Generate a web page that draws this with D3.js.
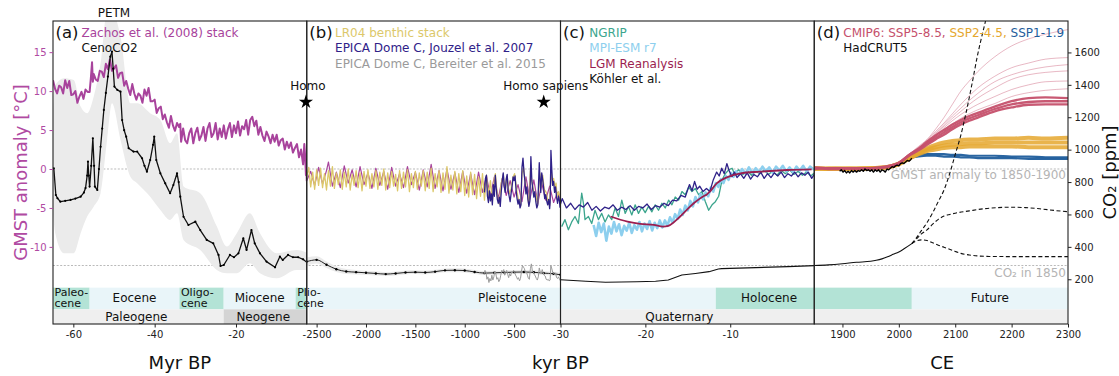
<!DOCTYPE html>
<html>
<head>
<meta charset="utf-8">
<script src="https://cdn.jsdelivr.net/npm/d3@7"></script>
<style>
  body { margin: 0; background: #fff; }
  text { font-family: "DejaVu Sans", sans-serif; }
</style>
</head>
<body>
<svg id="chart" width="1119" height="376"></svg>
<script>
// ---------------- axis domains & ticks ----------------
const myrDomain = [-65, -2.6];
const kyrDomainB = [-2600, -30];
const kyrDomainC = [-30, -0.1];
const ceDomain = [1850, 2300];
const tempDomain = [-19.9, 19.0];
const co2Domain = [-76, 1794];

const ticksMyr = [-60, -40, -20];
const ticksKyrB = [-2500, -2000, -1500, -1000, -500];
const ticksKyrC = [-30, -20, -10];
const ticksCE = [1900, 2000, 2100, 2200, 2300];
const ticksTemp = [-10, -5, 0, 5, 10, 15];
const ticksCO2 = [200, 400, 600, 800, 1000, 1200, 1400, 1600];

// ---------------- geological time bands ----------------
const epochNames = ["Paleo-\ncene", "Eocene", "Oligo-\ncene", "Miocene", "Plio-\ncene"];
const epochStartMyr = [-65, -56, -33.9, -23.03, -5.33];
const epochEndMyr = [-56, -33.9, -23.03, -5.33, -2.58];
const periodNames = ["Paleogene", "Neogene"];
const periodStartMyr = [-65, -23.03];
const periodEndMyr = [-23.03, -2.58];
const pleistoceneKyr = [-2580, -11.7];
const holoceneKyr = [-11.7, -0.1];
const holoceneCE = [1850, 2023];
const futureCE = [2023, 2300];

// ---------------- reference levels ----------------
const gmstRef = 0;        // anomaly to 1850-1900
const co2Ref1850 = 285;   // ppm

// ---------------- (a) Cenozoic ----------------
// Zachos et al. (2008) stack, [Myr, GMST anomaly]
const zachos = [
[-65,11.4],[-64.5,10.3],[-64,9.7],[-63.5,10.7],[-63,10.5],[-62.5,9.7],[-62,11.4],[-61.5,10.4],[-61,11.3],[-60.5,9.5],
[-60,9.6],[-59.5,10.0],[-59,8.5],[-58.5,9.3],[-58,9.9],[-57.5,9.0],[-57,10.2],[-56.5,9.9],[-56,9.9],[-55.7,11.6],
[-55.4,13.7],[-55.2,11.2],[-55,12.2],[-54.5,11.5],[-54,11.3],[-53.5,12.6],[-53,12.5],[-52.5,11.8],[-52,13.5],[-51.5,12.8],
[-51,14.1],[-50.5,12.6],[-50,12.9],[-49.5,13.3],[-49,11.7],[-48.5,12.3],[-48,12.4],[-47.5,10.7],[-47,11.3],[-46.5,10.3],
[-46,9.5],[-45.5,10.9],[-45,9.7],[-44.5,8.9],[-44,9.7],[-43.5,9.4],[-43,8.5],[-42.5,10.2],[-42,9.4],[-41.5,10.4],
[-41,8.7],[-40.5,8.7],[-40,8.9],[-39.5,7.2],[-39,7.8],[-38.5,8.0],[-38,6.4],[-37.5,7.0],[-37,6.0],[-36.5,5.3],
[-36,6.8],[-35.5,5.6],[-35,4.9],[-34.5,5.9],[-34,5.4],[-33.7,5.8],[-33.5,3.5],[-33,5.2],[-32.5,3.7],[-32,3.3],
[-31.5,4.6],[-31,5.2],[-30.5,3.3],[-30,4.6],[-29.5,5.3],[-29,3.7],[-28.5,4.3],[-28,5.4],[-27.5,3.6],[-27,5.2],
[-26.5,5.9],[-26,4.1],[-25.5,4.6],[-25,5.9],[-24.5,3.8],[-24,5.2],[-23.5,4.1],[-23,5.6],[-22.5,3.9],[-22,5.1],
[-21.5,5.9],[-21,4.1],[-20.5,5.6],[-20,4.6],[-19.5,6.1],[-19,4.3],[-18.5,5.5],[-18,5.1],[-17.5,6.3],[-17,4.4],
[-16.5,6.3],[-16,6.7],[-15.5,5.5],[-15,6.2],[-14.5,4.4],[-14,5.4],[-13.5,4.3],[-13,3.6],[-12.5,4.8],[-12,4.2],
[-11.5,3.3],[-11,4.4],[-10.5,3.5],[-10,4.4],[-9.5,3.0],[-9,3.7],[-8.5,3.9],[-8,2.5],[-7.5,3.5],[-7,2.7],
[-6.5,3.4],[-6,2.1],[-5.5,2.7],[-5,3.2],[-4.5,1.5],[-4,2.5],[-3.5,0.6],[-3.2,3.2],[-3,1.7],[-2.8,-0.8],
[-2.7,1.2],[-2.6,-1.5],[-2.56,-0.3],[-2.52,-2.1],[-2.48,0.2],[-2.44,-1.9],[-2.40,-0.2],[-2.38,0.9],[-2.34,-2.2],[-2.30,-0.4],
[-2.26,-2.4],[-2.22,0.4],[-2.18,-1.8],[-2.14,-0.1],[-2.10,-2.3],[-2.06,0.3],[-2.02,-2.0],[-1.98,-0.5],[-1.94,-2.5],[-1.90,0.1],
[-1.86,-2.1],[-1.82,-0.3],[-1.78,-2.6],[-1.74,0.2],[-1.70,-2.2],[-1.66,-0.6],[-1.62,-2.4],[-1.58,0.3],[-1.54,-2.0],[-1.50,-0.4],
[-1.46,-2.7],[-1.42,-0.1],[-1.38,-2.3],[-1.34,0.6],[-1.30,-2.5],[-1.26,-0.2],[-1.22,-2.8],[-1.18,0.0],[-1.14,-2.6],[-1.10,-0.5],
[-1.06,-3.0],[-1.02,-0.3],[-0.98,-3.1],[-0.94,-0.6],[-0.90,-3.3],[-0.86,-0.4],[-0.82,-3.0],[-0.78,-0.9],[-0.74,-3.5],[-0.70,-1.0],
[-0.66,-3.8],[-0.62,-1.2],[-0.58,-3.4],[-0.54,-1.5],[-0.50,-3.6],[-0.46,-2.0],[-0.42,-4.2],[-0.38,-1.0],[-0.34,-3.9],[-0.30,-1.4],
[-0.26,-4.4],[-0.22,-1.8],[-0.18,-4.0],[-0.14,-2.2],[-0.10,-4.3],[-0.06,-3.0],[-0.03,-4.0]
];

// CenoCO2 central estimate, [Myr, ppm]
const cenoCO2 = [
[-64.8,885],[-64.3,720],[-63.9,700],[-63.2,679],[-62,684],[-60.7,690],[-59.5,698],[-58.2,710],[-57.4,735],[-57,763],
[-56.6,840],[-56.4,926],[-56.2,840],[-56,772],[-55.6,900],[-55.2,1070],[-54.9,900],[-54.7,772],[-54.1,751],[-53.7,880],
[-53.3,1018],[-52.9,1130],[-52.5,1245],[-52,1350],[-51.5,1451],[-50.9,1574],[-50.5,1605],[-50.2,1500],[-49.9,1389],[-49.2,1369],
[-48.4,1358],[-48,1183],[-47.5,1120],[-47,1080],[-46.4,1009],[-45.2,988],[-44.3,988],[-43.1,947],[-42.5,900],[-41.9,864],
[-41.1,936],[-40.4,1030],[-40.1,1080],[-39.6,936],[-38.6,854],[-37.4,792],[-36.2,731],[-35.4,782],[-34.5,854],[-34.1,800],
[-33.7,710],[-32.9,586],[-31.7,535],[-30,556],[-28.8,504],[-27.2,443],[-25.6,422],[-24.3,350],[-23.8,282],[-23,288],
[-21.5,350],[-20.5,336],[-19.4,360],[-18.2,453],[-17.4,381],[-16.2,504],[-15.4,422],[-14.1,360],[-12.5,309],[-10.4,274],
[-9.2,340],[-8.5,319],[-7.2,350],[-6,336],[-4.7,336],[-3.5,323],[-2.3,299]
];
// CenoCO2 uncertainty range, [Myr, low, high]
const cenoCO2Range = [
[-65,600,1250],[-64.4,480,1400],[-62.3,361,1441],[-59.9,361,1430],[-58.2,484,1266],[-56.6,587,1225],[-55,648,1327],
[-53.3,731,1533],[-51.7,1060,1850],[-50.5,1286,1850],[-48.4,1060,1698],[-46,834,1286],[-44.3,793,1286],[-41.1,710,1225],
[-38.6,628,1183],[-36.2,566,1039],[-34.5,607,1101],[-32.9,443,772],[-28.8,381,731],[-24.7,257,525],[-22.3,237,402],
[-19.8,237,484],[-16.6,299,607],[-14.1,237,484],[-10,206,361],[-5.1,257,381],[-2.3,257,361]
];

// ---------------- (b) Plio-Pleistocene ----------------
// LR04 benthic stack, [kyr BP, GMST anomaly]
const lr04 = [
[-2600,-1.0],[-2580,0.2],[-2560,-2.3],[-2540,-0.4],[-2520,-2.6],[-2500,-0.1],[-2480,-2.1],[-2460,0.1],[-2440,-2.4],[-2420,-0.6],
[-2400,-2.7],[-2380,-0.2],[-2360,-2.2],[-2340,0.3],[-2320,-2.5],[-2300,-0.5],[-2280,-2.0],[-2260,-0.1],[-2240,-2.6],[-2220,-0.4],
[-2200,-2.3],[-2180,0.0],[-2160,-2.7],[-2140,-0.7],[-2120,-2.1],[-2100,-0.2],[-2080,-2.4],[-2060,-0.5],[-2040,-2.8],[-2020,-0.3],
[-2000,-2.2],[-1980,-0.1],[-1960,-2.5],[-1940,-0.6],[-1920,-2.3],[-1900,-0.2],[-1880,-2.6],[-1860,-0.4],[-1840,-2.1],[-1820,0.0],
[-1800,-2.7],[-1780,-0.5],[-1760,-2.4],[-1740,-0.3],[-1720,-2.2],[-1700,-0.7],[-1680,-2.8],[-1660,-0.2],[-1640,-2.5],[-1620,-0.4],
[-1600,-2.3],[-1580,-0.1],[-1560,-2.9],[-1540,-0.6],[-1520,-2.4],[-1500,-0.3],[-1480,-2.6],[-1460,-0.5],[-1440,-2.2],[-1420,-0.2],
[-1400,-2.8],[-1380,-0.4],[-1360,-2.5],[-1340,0.1],[-1320,-2.9],[-1300,-0.6],[-1280,-2.3],[-1260,-0.2],[-1240,-3.0],[-1220,-0.5],
[-1200,-2.6],[-1180,0.3],[-1160,-3.1],[-1140,-0.8],[-1120,-2.7],[-1100,-0.3],[-1080,-3.2],[-1060,-0.6],[-1040,-2.9],[-1020,-0.2],
[-1000,-3.4],[-980,-0.9],[-960,-3.6],[-940,-0.4],[-920,-3.3],[-900,-0.7],[-880,-3.8],[-860,-1.0],[-840,-3.5],[-820,-0.6],
[-800,-4.0],[-780,-0.8],[-760,-3.6],[-740,-1.5],[-720,-4.2],[-700,-1.2],[-690,-0.6],[-670,-3.4],[-650,-4.5],[-630,-1.8],
[-610,-0.7],[-590,-2.8],[-570,-0.9],[-550,-3.2],[-530,-2.5],[-510,-1.0],[-495,-0.6],[-470,-3.0],[-450,-4.3],[-435,-4.8],
[-420,-0.6],[-405,0.2],[-390,-1.5],[-370,-2.8],[-350,-4.6],[-335,-0.2],[-320,-1.6],[-300,-2.9],[-280,-3.3],[-260,-4.5],
[-240,-0.5],[-225,-2.3],[-210,-0.8],[-195,-2.6],[-175,-3.0],[-160,-4.0],[-140,-4.7],[-125,0.0],[-110,-2.0],[-100,-1.2],
[-85,-2.4],[-75,-1.8],[-65,-3.6],[-50,-2.9],[-30,-3.8]
];

// EPICA Dome C temperature (Jouzel et al. 2007), [kyr BP, GMST anomaly]
const epicaT = [
[-800,-3.0],[-790,-1.2],[-780,-0.8],[-770,-3.5],[-760,-4.3],[-750,-2.8],[-740,-4.1],[-730,-3.2],[-720,-4.6],[-710,-2.0],
[-700,-3.5],[-690,-0.8],[-680,-2.6],[-670,-3.9],[-660,-4.4],[-650,-3.6],[-640,-4.8],[-630,-2.9],[-620,-1.5],[-610,-0.5],
[-600,-2.2],[-590,-3.0],[-580,-1.3],[-570,-0.7],[-560,-2.8],[-550,-3.5],[-540,-4.2],[-530,-3.1],[-520,-2.2],[-510,-1.0],
[-500,-1.5],[-490,-0.9],[-480,-2.7],[-470,-3.8],[-460,-4.5],[-450,-3.9],[-440,-5.0],[-430,-4.6],[-425,-2.0],[-420,0.2],
[-410,1.4],[-400,-0.4],[-390,-1.6],[-380,-3.2],[-370,-2.3],[-360,-3.9],[-350,-4.8],[-340,-4.1],[-335,-1.0],[-330,1.6],
[-320,-1.5],[-310,-2.7],[-300,-3.6],[-290,-2.9],[-280,-4.2],[-270,-5.0],[-260,-4.6],[-250,-1.0],[-245,0.8],[-240,-0.6],
[-230,-3.0],[-220,-0.5],[-210,-1.4],[-200,-2.5],[-190,-3.8],[-180,-3.3],[-170,-4.1],[-160,-4.6],[-150,-3.9],[-140,-5.1],
[-135,-4.3],[-130,-0.5],[-127,2.4],[-120,0.4],[-110,-2.1],[-100,-1.6],[-90,-3.0],[-80,-2.3],[-70,-3.6],[-60,-4.4],
[-50,-3.5],[-40,-4.2],[-35,-4.9],[-30,-4.5],
[-29.8,-3.8],[-29.3,-5.0],[-28.8,-4.4],[-28.3,-5.2],[-27.8,-4.6],[-27.3,-4.9],[-26.8,-4.3],[-26.3,-5.3],[-25.8,-4.8],[-25.3,-5.4],
[-24.8,-4.9],[-24.3,-5.1],[-23.8,-4.6],[-23.3,-5.3],[-22.8,-4.9],[-22.3,-5.2],[-21.8,-4.7],[-21.3,-5.3],[-20.8,-4.8],[-20.3,-5.0],
[-19.8,-4.5],[-19.3,-5.2],[-18.8,-4.7],[-18.3,-4.9],[-17.8,-4.4],[-17.3,-4.7],[-16.8,-4.0],[-16.3,-4.1],[-15.8,-3.4],[-15.3,-3.6],
[-14.8,-2.0],[-14.5,-2.8],[-14.2,-1.6],[-13.9,-2.6],[-13.6,-2.2],[-13.2,-2.9],[-12.8,-2.5],[-12.4,-2.9],[-12.0,-1.4],[-11.6,-0.4],
[-11.3,-0.9],[-11.0,0.1],[-10.7,-0.6],[-10.4,0.7],[-10.1,-0.3],[-9.8,-1.0],[-9.5,-0.4],[-9.2,-1.1],[-8.8,-0.6],[-8.4,-1.2],
[-8.0,-0.5],[-7.6,-1.3],[-7.2,-0.7],[-6.8,-1.0],[-6.4,-0.4],[-6.0,-1.2],[-5.6,-0.6],[-5.2,-1.1],[-4.8,-0.5],[-4.4,-0.9],
[-4.0,-0.4],[-3.6,-1.1],[-3.2,-0.6],[-2.8,-0.9],[-2.4,-0.4],[-2.0,-1.0],[-1.6,-0.5],[-1.2,-0.8],[-0.8,-0.4],[-0.4,-1.2],[-0.1,-0.7]
];

// EPICA Dome C CO2 (Bereiter et al. 2015), [kyr BP, ppm]
const bereiterCO2 = [
[-805,230],[-795,255],[-785,245],[-775,200],[-765,215],[-755,180],[-745,205],[-735,190],[-725,225],[-715,195],
[-705,215],[-695,250],[-685,235],[-675,200],[-665,210],[-655,185],[-645,195],[-635,225],[-625,255],[-615,245],
[-605,260],[-595,225],[-585,240],[-575,255],[-565,230],[-555,210],[-545,235],[-535,220],[-525,245],[-515,240],
[-505,255],[-495,245],[-485,225],[-475,215],[-465,200],[-455,210],[-445,190],[-435,205],[-425,250],[-415,285],
[-405,275],[-395,265],[-385,240],[-375,245],[-365,225],[-355,205],[-345,200],[-335,265],[-325,295],[-315,250],
[-305,245],[-295,230],[-285,220],[-275,205],[-265,195],[-255,215],[-245,270],[-235,245],[-225,235],[-215,260],
[-205,240],[-195,225],[-185,220],[-175,200],[-165,195],[-155,200],[-145,190],[-135,195],[-128,285],[-120,270],
[-110,245],[-100,235],[-90,230],[-80,240],[-70,210],[-60,205],[-50,215],[-40,200],[-30,190]
];

// Plio-Pleistocene CO2 reconstruction, [kyr BP, ppm, low, high]
const plioCO2 = [
[-2600,309,285,335],[-2500,320,298,342],[-2400,290,270,310],[-2300,262,245,280],[-2200,248,233,263],[-2100,244,230,258],
[-2000,240,227,253],[-1900,236,223,249],[-1800,232,220,244],[-1700,236,224,248],[-1600,242,230,254],[-1500,244,232,256],
[-1400,242,230,254],[-1300,247,235,259],[-1200,255,243,267],[-1100,256,244,268],[-1000,254,242,266],[-900,245,233,257],
[-800,238,226,250],[-700,240,228,252],[-600,242,230,254],[-500,244,232,256],[-400,245,233,257],[-300,243,231,255],
[-200,238,226,250],[-100,234,222,246],[-30,228,216,240]
];

// ---------------- (c) Last deglaciation ----------------
// NGRIP, [kyr BP, GMST anomaly]
const ngrip = [
[-29.86,-7.4],[-29.47,-6.5],[-29.07,-7.8],[-28.68,-6.8],[-28.29,-6.1],[-27.89,-7.0],[-27.5,-3.1],[-27.3,-4.4],[-27.11,-6.5],[-26.71,-6.1],
[-26.32,-7.0],[-25.93,-5.3],[-25.53,-6.5],[-25.14,-5.7],[-24.75,-6.8],[-24.35,-5.9],[-23.96,-6.5],[-23.56,-5.0],[-23.17,-6.1],[-22.78,-4.0],
[-22.38,-5.7],[-21.99,-4.8],[-21.6,-5.9],[-21.2,-4.6],[-20.81,-5.7],[-20.42,-4.9],[-20.02,-5.6],[-19.63,-4.8],[-19.23,-5.5],[-18.84,-4.6],
[-18.45,-5.3],[-18.05,-4.4],[-17.66,-5.0],[-17.26,-4.0],[-16.87,-4.6],[-16.48,-3.6],[-16.08,-4.0],[-15.69,-2.9],[-15.3,-3.3],[-14.9,-2.3],
[-14.51,-2.9],[-14.11,-2.5],[-13.72,-3.3],[-13.33,-2.9],[-12.93,-4.2],[-12.54,-5.3],[-12.14,-4.6],[-11.75,-4.2],[-11.36,-3.5],[-10.96,-1.4],
[-10.57,-0.6],[-10.17,-0.1],[-9.78,0.1],[-9.5,-0.6],[-9.0,-0.1],[-8.5,-0.7],[-8.0,-0.2],[-7.5,-0.8],[-7.0,-0.3],[-6.5,-0.6],
[-6.0,-0.1],[-5.5,-0.7],[-5.0,-0.3],[-4.5,-0.8],[-4.0,-0.2],[-3.5,-0.6],[-3.0,-0.1],[-2.5,-0.7],[-2.0,-0.3],[-1.5,-0.8],
[-1.0,-0.4],[-0.5,-0.9],[-0.1,-0.5]
];

// MPI-ESM r7 transient deglaciation, [kyr BP, GMST anomaly]
const mpiEsm = [
[-26.1,-7.2],[-25.8,-8.6],[-25.5,-6.9],[-25.2,-8.1],[-24.9,-7.0],[-24.6,-9.2],[-24.3,-7.4],[-24.0,-8.3],[-23.7,-6.8],[-23.4,-8.0],
[-23.1,-7.1],[-22.8,-8.5],[-22.5,-7.3],[-22.2,-7.9],[-21.9,-6.9],[-21.6,-8.2],[-21.3,-7.2],[-21.0,-7.8],[-20.7,-6.8],[-20.4,-8.0],
[-20.1,-7.0],[-19.8,-7.7],[-19.5,-6.7],[-19.2,-7.9],[-18.9,-6.9],[-18.6,-7.6],[-18.3,-6.6],[-18.0,-7.5],[-17.7,-6.6],[-17.4,-7.3],
[-17.1,-6.2],[-16.8,-6.9],[-16.5,-5.8],[-16.2,-6.4],[-15.9,-5.2],[-15.6,-5.9],[-15.3,-4.7],[-15.0,-5.3],[-14.7,-4.1],[-14.4,-4.8],
[-14.1,-3.6],[-13.8,-4.3],[-13.5,-3.2],[-13.2,-3.9],[-12.9,-3.0],[-12.6,-3.5],[-12.3,-2.4],[-12.0,-2.9],[-11.7,-1.8],[-11.4,-2.3],
[-11.1,-1.3],[-10.8,-1.8],[-10.5,-0.9],[-10.2,-1.4],[-9.9,-0.5],[-9.6,-1.0],[-9.3,-0.3],[-9.0,-0.8],[-8.6,0.0],[-8.2,-0.6],
[-7.8,0.2],[-7.4,-0.5],[-7.0,0.1],[-6.6,-0.4],[-6.2,0.3],[-5.8,-0.3],[-5.4,0.2],[-5.0,-0.5],[-4.6,0.3],[-4.2,-0.2],
[-3.8,0.4],[-3.4,-0.3],[-3.0,0.2],[-2.6,-0.4],[-2.2,0.3],[-1.8,-0.2],[-1.4,0.4],[-1.0,-0.3],[-0.6,0.3],[-0.1,-0.1]
];

// LGM Reanalysis, [kyr BP, GMST anomaly]
const lgmReanalysis = [
[-24.1,-6.1],[-22.1,-6.75],[-20.6,-7.05],[-19.0,-7.18],[-17.9,-7.39],[-17.3,-7.3],[-15.9,-6.1],[-14.3,-4.4],[-13.1,-3.46],
[-12.8,-3.3],[-12.4,-2.9],[-11.6,-1.84],[-10.4,-1.07],[-8.8,-0.56],[-6.5,-0.34],[-3.3,-0.13],[-0.4,-0.04]
];

// Köhler et al. CO2, [kyr BP, ppm]
const kohlerCO2 = [
[-30,197],[-27,188],[-24.7,182],[-21,185],[-18.8,188],[-17.3,196],[-15.7,226],[-14.1,236],[-12.5,247],[-11.4,263],
[-11,266],[-7,272],[-3.2,278],[-0.1,284]
];

// ---------------- (d) Industrial era & projections ----------------
const cmipYears = [1850,1875,1900,1925,1950,1975,2000,2020,2035,2050,2065,2080,2095,2110,2125,2140,2170,2200,2230,2260,2300];
// SSP5-8.5 members (thin)
const ssp585Thin = [
[0.1,0.0,0.1,0.0,0.1,0.2,0.8,2.0,2.9,3.8,5.1,6.6,8.3,10.0,11.3,12.5,14.4,15.8,16.7,17.3,17.9],
[0.2,0.1,0.0,0.1,0.2,0.3,0.8,2.0,2.8,3.7,4.8,5.9,7.1,8.3,9.4,10.4,11.9,13.0,13.6,14.1,14.3],
[0.0,0.1,0.1,0.0,0.1,0.2,0.7,1.9,2.7,3.6,4.6,5.7,6.8,7.8,8.8,9.7,11.2,12.1,12.7,13.1,13.4],
[0.1,0.1,0.0,0.1,0.0,0.2,0.8,1.9,2.7,3.5,4.5,5.5,6.5,7.4,8.3,9.1,10.4,11.5,12.1,12.4,12.6],
[0.1,0.0,0.1,0.1,0.1,0.3,0.7,1.9,2.6,3.4,4.3,5.3,6.2,7.0,7.7,8.3,9.3,10.2,10.8,11.2,11.3],
[0.0,0.1,0.0,0.0,0.1,0.2,0.8,1.9,2.6,3.3,4.2,5.1,5.8,6.5,7.1,7.6,8.4,9.3,9.8,10.1,10.3]
];
// SSP5-8.5 members (thick)
const ssp585Thick = [
[0.2,0.1,0.1,0.0,0.1,0.3,0.8,1.9,2.6,3.5,4.3,5.0,5.7,6.3,6.8,7.2,8.0,8.7,9.1,9.2,9.1],
[0.1,0.0,0.0,0.1,0.1,0.2,0.7,1.8,2.4,3.1,3.8,4.4,5.1,5.7,6.2,6.6,7.4,7.9,8.25,8.3,8.3],
[0.0,0.1,0.1,0.1,0.0,0.2,0.8,1.9,2.5,3.3,4.0,4.7,5.4,6.0,6.5,6.9,7.7,8.3,8.6,8.7,8.7]
];
const ssp245 = [
[0.1,0.0,0.1,0.0,0.1,0.2,0.7,1.5,2.1,2.7,3.1,3.4,3.6,3.7,3.8,3.8,3.9,3.9,4.0,3.9,4.0],
[0.0,0.1,0.0,0.1,0.1,0.2,0.7,1.4,2.0,2.5,2.8,3.0,3.1,3.2,3.3,3.3,3.4,3.4,3.4,3.4,3.4],
[0.1,0.0,0.0,0.0,0.1,0.2,0.6,1.4,1.9,2.3,2.5,2.7,2.8,2.8,2.9,2.9,2.9,2.9,2.8,2.8,2.8]
];
const ssp119 = [
[0.1,0.0,0.1,0.0,0.1,0.2,0.7,1.5,1.8,1.9,1.9,1.9,1.8,1.8,1.7,1.7,1.7,1.6,1.6,1.5,1.5],
[0.0,0.1,0.0,0.1,0.0,0.2,0.6,1.4,1.6,1.7,1.7,1.6,1.6,1.5,1.5,1.4,1.4,1.4,1.3,1.3,1.3]
];

// HadCRUT5, [year, GMST anomaly]
const hadcrut5 = [
[1895,-0.3],[1898,-0.1],[1901,-0.4],[1904,-0.2],[1907,-0.5],[1910,-0.3],[1913,-0.5],[1916,-0.2],[1919,-0.4],[1922,-0.2],
[1925,-0.4],[1928,-0.2],[1931,-0.3],[1934,-0.1],[1937,-0.3],[1940,0.0],[1943,-0.2],[1946,-0.1],[1949,-0.3],[1952,-0.1],
[1955,-0.4],[1958,-0.1],[1961,-0.3],[1964,-0.1],[1967,-0.4],[1970,-0.1],[1973,-0.2],[1976,-0.4],[1979,0.0],[1982,-0.1],
[1985,0.1],[1988,0.3],[1991,0.2],[1994,0.4],[1997,0.5],[2000,0.4],[2003,0.7],[2006,0.8],[2009,0.7],[2012,0.9],
[2015,1.1],[2018,1.0],[2021,1.2],[2023,1.4]
];

// CO2 observed and scenario concentrations, [year, ppm]
const co2Hist = [[1850,285],[1875,289],[1900,296],[1925,305],[1950,311],[1960,317],[1970,326],[1980,339],[1990,354],[2000,369],[2010,390],[2023,420]];
const co2Ssp585 = [[2023,420],[2030,450],[2040,500],[2050,550],[2060,610],[2070,680],[2080,750],[2090,850],[2100,970],[2110,1090],[2120,1240],[2130,1410],[2140,1590],[2150,1740],[2160,1880],[2175,2050],[2200,2150],[2250,2200],[2300,2200]];
const co2Ssp245 = [[2023,420],[2030,445],[2040,480],[2050,505],[2060,540],[2070,570],[2080,590],[2090,600],[2100,608],[2125,622],[2150,635],[2175,642],[2200,645],[2225,642],[2250,635],[2275,625],[2300,617]];
const co2Ssp119 = [[2023,420],[2030,435],[2040,443],[2050,439],[2060,425],[2070,410],[2080,398],[2090,385],[2100,372],[2110,360],[2125,350],[2140,344],[2160,341],[2200,340],[2300,340]];

// hominin markers
const homoAgeMyr = -2.8;
const sapiensAgeKyr = -200;
const starLevel = 8.6;

// ================= drawing =================
const C = {
  zachos: "#a8439c", axisT: "#b04aa2", lr04: "#dcc86a", epica: "#2f2188", bereiter: "#9a9a9a",
  ngrip: "#3ba58d", mpi: "#8dcfee", lgm: "#9b1e4f", s585: "#c5506c", s245: "#e5a72e", s119: "#1f5d9c",
  teal: "#b3e3d6", light: "#e9f5f9", gray1: "#efefef", gray2: "#d4d4d4", ref: "#a8a8a8", refText: "#b4b4b4"
};

const svg = d3.select("#chart");
const L = 53, R = 1068, T = 21, B = 324;
const pw = (R - L) / 4;
const px = [L, L + pw, L + 2 * pw, L + 3 * pw];

const xA = d3.scaleLinear().domain(myrDomain).range([px[0], px[1]]);
const xB = d3.scaleLinear().domain(kyrDomainB).range([px[1], px[2]]);
const xC = d3.scaleLinear().domain(kyrDomainC).range([px[2], px[3]]);
const xD = d3.scaleLinear().domain(ceDomain).range([px[3], R]);
const yT = d3.scaleLinear().domain(tempDomain).range([B, T]);
const yC = d3.scaleLinear().domain(co2Domain).range([B, T]);

const epochTop = T + (B - T) * 0.880;
const periodTop = T + (B - T) * 0.9515;

const defs = svg.append("defs");
px.forEach((x, i) => {
  defs.append("clipPath").attr("id", "clip" + i)
    .append("rect").attr("x", x).attr("y", T).attr("width", pw).attr("height", B - T);
});

const bandG = px.map((x, i) => svg.append("g").attr("clip-path", `url(#clip${i})`));
const refG = svg.append("g");
const dataG = px.map((x, i) => svg.append("g").attr("clip-path", `url(#clip${i})`));

// ---- time bands ----
function band(g, x0, x1, y0, y1, fill) {
  g.append("rect").attr("x", Math.min(x0, x1)).attr("y", y0)
    .attr("width", Math.abs(x1 - x0)).attr("height", y1 - y0).attr("fill", fill);
}
const epochFill = [C.teal, C.light, C.teal, C.light, C.teal];
epochNames.forEach((n, i) => band(bandG[0], xA(epochStartMyr[i]), xA(epochEndMyr[i]), epochTop, periodTop, epochFill[i]));
const periodFill = [C.gray1, C.gray2];
periodNames.forEach((n, i) => band(bandG[0], xA(periodStartMyr[i]), xA(periodEndMyr[i]), periodTop, B, periodFill[i]));
band(bandG[1], xB(pleistoceneKyr[0]), xB(kyrDomainB[1]), epochTop, periodTop, C.light);
band(bandG[1], xB(pleistoceneKyr[0]), xB(kyrDomainB[1]), periodTop, B, C.gray1);
band(bandG[2], xC(kyrDomainC[0]), xC(pleistoceneKyr[1]), epochTop, periodTop, C.light);
band(bandG[2], xC(holoceneKyr[0]), xC(holoceneKyr[1]), epochTop, periodTop, C.teal);
band(bandG[2], xC(kyrDomainC[0]), xC(kyrDomainC[1]), periodTop, B, C.gray1);
band(bandG[3], xD(holoceneCE[0]), xD(holoceneCE[1]), epochTop, periodTop, C.teal);
band(bandG[3], xD(futureCE[0]), xD(futureCE[1]), epochTop, periodTop, C.light);
band(bandG[3], xD(ceDomain[0]), xD(ceDomain[1]), periodTop, B, C.gray1);

// band labels; two-line epoch names sit at the start of their span
const labG = svg.append("g").attr("font-size", 12).attr("fill", "#111");
epochNames.forEach((n, i) => {
  const parts = n.split("\n");
  if (parts.length > 1) {
    parts.forEach((p, k) => {
      labG.append("text").attr("x", xA(epochStartMyr[i]) + 1.5).attr("y", epochTop + 8.6 + k * 11)
        .attr("font-size", 11).text(p);
    });
  } else {
    labG.append("text").attr("x", (xA(epochStartMyr[i]) + xA(epochEndMyr[i])) / 2).attr("y", epochTop + 14)
      .attr("text-anchor", "middle").text(n);
  }
});
periodNames.forEach((n, i) => {
  labG.append("text").attr("x", (xA(periodStartMyr[i]) + xA(periodEndMyr[i])) / 2 - 2).attr("y", B - 3.2)
    .attr("text-anchor", "middle").text(n);
});
labG.append("text").attr("x", (xB(pleistoceneKyr[0]) + xC(pleistoceneKyr[1])) / 2).attr("y", epochTop + 14)
  .attr("text-anchor", "middle").text("Pleistocene");
labG.append("text").attr("x", (xC(holoceneKyr[0]) + xC(holoceneKyr[1])) / 2 + 4).attr("y", epochTop + 14)
  .attr("text-anchor", "middle").text("Holocene");
labG.append("text").attr("x", (xD(futureCE[0]) + xD(futureCE[1])) / 2).attr("y", epochTop + 14)
  .attr("text-anchor", "middle").text("Future");
labG.append("text").attr("x", xC(-16)).attr("y", B - 3.2).attr("text-anchor", "middle").text("Quaternary");

// ---- reference levels ----
[yT(gmstRef), yC(co2Ref1850)].forEach(y => {
  refG.append("line").attr("x1", L).attr("x2", R).attr("y1", y).attr("y2", y)
    .attr("stroke", C.ref).attr("stroke-width", 0.8).attr("stroke-dasharray", "2,1.6");
});
refG.append("text").attr("x", R - 2).attr("y", yT(gmstRef) + 10.3).attr("text-anchor", "end")
  .attr("font-size", 12).attr("fill", C.refText).text("GMST anomaly to 1850-1900");
refG.append("text").attr("x", R - 2).attr("y", yC(co2Ref1850) + 11.3).attr("text-anchor", "end")
  .attr("font-size", 12).attr("fill", C.refText).text("CO₂ in 1850");

// ---- helpers ----
function path(g, data, x, y, stroke, w, curve, dash, opacity) {
  const ln = d3.line().x(d => x(d[0])).y(d => y(d[1]));
  if (curve) ln.curve(curve);
  const p = g.append("path").datum(data).attr("d", ln).attr("fill", "none")
    .attr("stroke", stroke).attr("stroke-width", w).attr("stroke-linejoin", "round");
  if (dash) p.attr("stroke-dasharray", dash);
  if (opacity != null) p.attr("stroke-opacity", opacity);
  return p;
}
function dots(g, data, x, y, r) {
  g.append("g").selectAll("circle").data(data).join("circle")
    .attr("cx", d => x(d[0])).attr("cy", d => y(d[1])).attr("r", r).attr("fill", "#000");
}
const kyrOfMyr = d => d * 1000;

// ---- panel (a) ----
dataG[0].append("path").datum(cenoCO2Range)
  .attr("d", d3.area().x(d => xA(d[0])).y0(d => yC(d[1])).y1(d => yC(d[2])).curve(d3.curveMonotoneX))
  .attr("fill", "#ebebeb");
path(dataG[0], zachos, xA, yT, C.zachos, 2.0);
path(dataG[0], cenoCO2, xA, yC, "#111", 1.3);
dots(dataG[0], cenoCO2, xA, yC, 1.1);

// ---- panel (b) ----
dataG[1].append("path").datum(plioCO2)
  .attr("d", d3.area().x(d => xB(d[0])).y0(d => yC(d[2])).y1(d => yC(d[3])).curve(d3.curveMonotoneX))
  .attr("fill", "#ebebeb");
path(dataG[1], zachos, d => xB(kyrOfMyr(d)), yT, C.zachos, 1.2);
path(dataG[1], lr04, xB, yT, C.lr04, 1.3);
path(dataG[1], epicaT, xB, yT, C.epica, 1.3);
path(dataG[1], plioCO2, xB, yC, "#222", 1.0, d3.curveMonotoneX);
dots(dataG[1], plioCO2, xB, yC, 1.2);
path(dataG[1], bereiterCO2, xB, yC, C.bereiter, 1.0);

// ---- panel (c) ----
path(dataG[2], ngrip, xC, yT, C.ngrip, 1.3);
path(dataG[2], mpiEsm, xC, yT, C.mpi, 2.6);
path(dataG[2], epicaT, xC, yT, C.epica, 1.3);
path(dataG[2], lgmReanalysis, xC, yT, C.lgm, 1.8, d3.curveMonotoneX);
path(dataG[2], kohlerCO2, xC, yC, "#111", 1.1);

// ---- panel (d) ----
const cmipLine = d3.line().x((d, i) => xD(cmipYears[i])).y(d => yT(d)).curve(d3.curveMonotoneX);
function members(arr, color, w, op) {
  arr.forEach(m => dataG[3].append("path").datum(m).attr("d", cmipLine).attr("fill", "none")
    .attr("stroke", color).attr("stroke-width", w).attr("stroke-opacity", op));
}
members(ssp119, C.s119, 2.2, 0.95);
members(ssp245, C.s245, 4.0, 0.85);
members(ssp585Thin, C.s585, 0.9, 0.45);
members(ssp585Thick, C.s585, 2.3, 0.95);
path(dataG[3], hadcrut5, xD, yT, "#000", 1.4);
path(dataG[3], co2Hist, xD, yC, "#111", 1.1, d3.curveMonotoneX);
[co2Ssp585, co2Ssp245, co2Ssp119].forEach(s => path(dataG[3], s, xD, yC, "#111", 1.1, d3.curveMonotoneX, "4,2.5"));

// ---- frames ----
px.forEach(x => {
  svg.append("rect").attr("x", x).attr("y", T).attr("width", pw).attr("height", B - T)
    .attr("fill", "none").attr("stroke", "#222").attr("stroke-width", 1.1);
});

// ---- axes ----
const fmt = d => String(d);
function styleAxis(g, color) {
  g.select(".domain").remove();
  g.selectAll("line").attr("stroke", color).attr("stroke-width", 1);
  g.selectAll("text").attr("fill", color).attr("font-size", 10).attr("font-family", "DejaVu Sans");
}
[[xA, ticksMyr], [xB, ticksKyrB], [xC, ticksKyrC], [xD, ticksCE]].forEach(([sc, tv]) => {
  const g = svg.append("g").attr("transform", `translate(0,${B})`)
    .call(d3.axisBottom(sc).tickValues(tv).tickSize(3.5).tickPadding(3).tickFormat(fmt));
  styleAxis(g, "#222");
});
const gl = svg.append("g").attr("transform", `translate(${L},0)`)
  .call(d3.axisLeft(yT).tickValues(ticksTemp).tickSize(3.5).tickPadding(3).tickFormat(fmt));
styleAxis(gl, C.axisT);
const gr = svg.append("g").attr("transform", `translate(${R},0)`)
  .call(d3.axisRight(yC).tickValues(ticksCO2).tickSize(3.5).tickPadding(3).tickFormat(fmt));
styleAxis(gr, "#222");

// axis titles
const midY = (T + B) / 2;
svg.append("text").attr("transform", `translate(26.5,${midY}) rotate(-90)`).attr("text-anchor", "middle")
  .attr("font-size", 18).attr("fill", C.axisT).text("GMST anomaly [°C]");
svg.append("text").attr("transform", `translate(1116,${midY}) rotate(-90)`).attr("text-anchor", "middle")
  .attr("font-size", 18).attr("fill", "#111").text("CO₂ [ppm]");
[["Myr BP", (px[0] + px[1]) / 2], ["kyr BP", px[2]], ["CE", (px[3] + R) / 2 + 1]].forEach(([t, x]) => {
  svg.append("text").attr("x", x).attr("y", 368.5).attr("text-anchor", "middle").attr("font-size", 18).attr("fill", "#111").text(t);
});

// ---- panel titles and legends ----
function legend(x, lines) {
  lines.forEach(([txt, col], k) => {
    svg.append("text").attr("x", x).attr("y", 37 + k * 15.3).attr("font-size", 12).attr("fill", col).text(txt);
  });
}
["(a)", "(b)", "(c)", "(d)"].forEach((t, i) => {
  svg.append("text").attr("x", px[i] + 2.5).attr("y", 38).attr("font-size", 16.5).attr("fill", "#111").text(t);
});
legend(px[0] + 28.5, [["Zachos et al. (2008) stack", C.zachos], ["CenoCO2", "#111"]]);
legend(px[1] + 28.3, [["LR04 benthic stack", C.lr04], ["EPICA Dome C, Jouzel et al. 2007", C.epica], ["EPICA Dome C, Bereiter et al. 2015", C.bereiter]]);
legend(px[2] + 28.8, [["NGRIP", C.ngrip], ["MPI-ESM r7", C.mpi], ["LGM Reanalysis", C.lgm], ["Köhler et al.", "#111"]]);
const tD = svg.append("text").attr("x", px[3] + 29).attr("y", 37).attr("font-size", 12);
tD.append("tspan").attr("fill", C.s585).text("CMIP6: SSP5-8.5, ");
tD.append("tspan").attr("fill", C.s245).text("SSP2-4.5, ");
tD.append("tspan").attr("fill", C.s119).text("SSP1-1.9");
svg.append("text").attr("x", px[3] + 29).attr("y", 52.3).attr("font-size", 12).attr("fill", "#111").text("HadCRUT5");

// PETM label above the CenoCO2 maximum
const petm = cenoCO2.reduce((a, b) => (b[1] > a[1] ? b : a));
svg.append("text").attr("x", xA(petm[0]) + 2).attr("y", 16.7).attr("text-anchor", "middle")
  .attr("font-size", 12).attr("fill", "#111").text("PETM");

// hominin markers
const star = d3.symbol(d3.symbolStar, 62)();
[[xA(homoAgeMyr), "Homo"], [xB(sapiensAgeKyr), "Homo sapiens"]].forEach(([x, label]) => {
  svg.append("path").attr("d", star).attr("transform", `translate(${x},${yT(starLevel)})`).attr("fill", "#000");
  svg.append("text").attr("x", x + 2).attr("y", yT(starLevel) - 12).attr("text-anchor", "middle")
    .attr("font-size", 12).attr("fill", "#111").text(label);
});
</script>
</body>
</html>
